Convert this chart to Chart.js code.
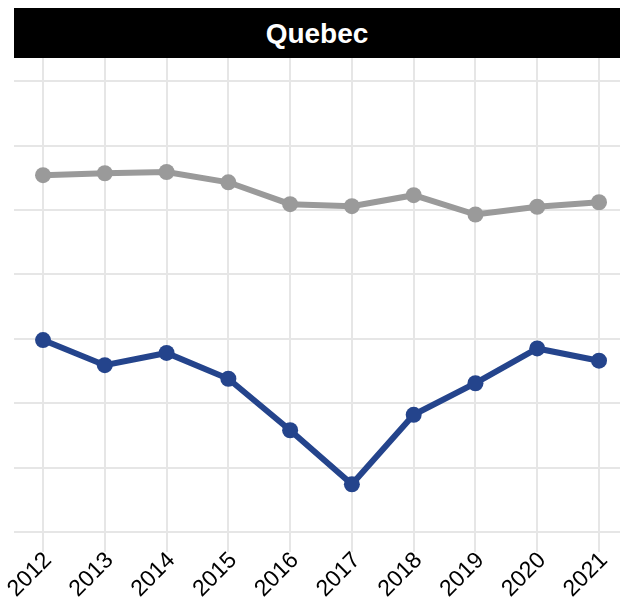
<!DOCTYPE html>
<html>
<head>
<meta charset="utf-8">
<script src="https://cdn.jsdelivr.net/npm/chart.js@4.4.1/dist/chart.umd.min.js"></script>
<style>
    html, body { margin: 0; padding: 0; background: #fff; }
    #wrap { position: relative; width: 620px; height: 604px; }
    #title {
        position: absolute; left: 14px; top: 8px; width: 606px; height: 50px;
        background: #000; color: #fff; text-align: center;
        font: bold 28px "Liberation Sans", Arial, sans-serif; line-height: 52px;
    }
    #box { position: absolute; left: 0; top: 58px; width: 620px; height: 546px; }
</style>
</head>
<body>
<div id="wrap">
    <div id="title">Quebec</div>
    <div id="box"><canvas id="chart"></canvas></div>
</div>
<script>
(function() {
    // Years on the x axis
    var years = [2012, 2013, 2014, 2015, 2016, 2017, 2018, 2019, 2020, 2021];
    // Upper (grey) series
    var greyValues = [55.4, 55.7, 55.9, 54.3, 50.9, 50.6, 52.3, 49.3, 50.5, 51.2];
    // Lower (blue) series
    var blueValues = [29.8, 25.9, 27.8, 23.8, 15.8, 7.4, 18.2, 23.1, 28.5, 26.6];

    function toPoints(vals) {
        var pts = [];
        for (var i = 0; i < years.length; i++) {
            pts.push({ x: years[i], y: vals[i] });
        }
        return pts;
    }

    function lineSet(vals, color) {
        return {
            data: toPoints(vals),
            borderColor: color,
            backgroundColor: color,
            borderWidth: 6,
            pointRadius: 8,
            pointHoverRadius: 8,
            pointBorderWidth: 0,
            tension: 0,
            clip: false
        };
    }

    var gridColor = '#e6e6e6';

    new Chart(document.getElementById('chart'), {
        type: 'line',
        data: {
            datasets: [
                lineSet(greyValues, '#9a9a9a'),
                lineSet(blueValues, '#24448c')
            ]
        },
        options: {
            responsive: true,
            maintainAspectRatio: false,
            animation: false,
            layout: { autoPadding: false, padding: { left: 14, right: 0, top: 0, bottom: 0 } },
            plugins: {
                legend: { display: false },
                tooltip: { enabled: false }
            },
            scales: {
                x: {
                    type: 'linear',
                    min: 2011.53,
                    max: 2021.34,
                    border: { display: false },
                    grid: { color: gridColor, lineWidth: 2, tickLength: 20, tickColor: gridColor },
                    ticks: {
                        stepSize: 1,
                        includeBounds: false,
                        maxRotation: 45,
                        minRotation: 45,
                        padding: -5,
                        labelOffset: 5,
                        color: '#000',
                        font: { family: '"Liberation Sans", Arial, sans-serif', size: 23 },
                        callback: function(v) { return String(v); }
                    },
                    afterFit: function(scale) {
                        scale.height = 72;
                        scale.paddingLeft = 0;
                        scale.paddingRight = 0;
                    }
                },
                y: {
                    min: 0,
                    max: 73.6,
                    border: { display: false },
                    grid: { color: gridColor, lineWidth: 2, drawTicks: false },
                    ticks: { display: false, stepSize: 10, includeBounds: false },
                    afterFit: function(scale) { scale.width = 0; }
                }
            }
        }
    });
})();
</script>
</body>
</html>
